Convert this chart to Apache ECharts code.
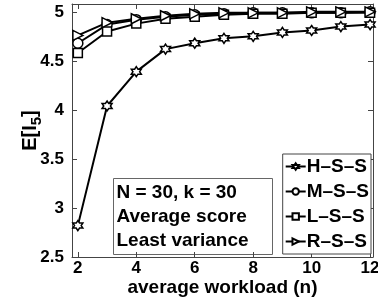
<!DOCTYPE html>
<html><head><meta charset="utf-8">
<script src="https://cdn.jsdelivr.net/npm/echarts@6/dist/echarts.min.js"></script>
<style>html,body{margin:0;padding:0;background:#fff}#c{width:378px;height:300px}</style>
</head><body><div id="c"></div>
<script>
const workload = [2,3,4,5,6,7,8,9,10,11,12];
const hss = [2.82,4.04,4.39,4.62,4.68,4.73,4.75,4.79,4.81,4.85,4.87];
const mss = [4.68,4.87,4.92,4.95,4.97,4.98,4.99,4.99,4.99,4.99,5.00];
const lss = [4.58,4.80,4.88,4.93,4.95,4.97,4.98,4.98,4.99,4.99,4.99];
const rss = [4.76,4.89,4.93,4.96,4.98,4.99,4.99,4.99,5.00,5.00,5.00];
const seriesNames = ['H\u2013S\u2013S','M\u2013S\u2013S','L\u2013S\u2013S','R\u2013S\u2013S'];
const xTicks = [2,4,6,8,10,12];
const yTicks = [2.5,3,3.5,4,4.5,5];
const note = ['N = 30, k = 30','Average score','Least variance'];

const FONT = '"Liberation Sans", Arial, sans-serif';
const star = 'path://M0,-10L2.89,-5L8.66,-5L5.77,0L8.66,5L2.89,5L0,10L-2.89,5L-8.66,5L-5.77,0L-8.66,-5L-2.89,-5Z';
const symbols = [star,'circle','rect','path://M-7,-8L8,0L-7,8Z'];
const sizes = [10,10,9,10];
const data = [hss,mss,lss,rss];

const chart = echarts.init(document.getElementById('c'));
const axisLine = {lineStyle:{color:'#444',width:1}};
const tick = vals => ({inside:true,length:5,customValues:vals,lineStyle:{color:'#444'}});
const lblStyle = {fontFamily:FONT,fontWeight:'bold',fontSize:17,color:'#000'};
chart.setOption({
  animation:false,
  backgroundColor:'#fff',
  grid:{left:72,right:5,top:4,bottom:43,containLabel:false,outerBoundsMode:'none'},
  xAxis:[
    {type:'value',min:1.8,max:12.1,position:'bottom',
      name:'average workload (n)',nameLocation:'middle',nameGap:21,nameMoveOverlap:false,
      nameTextStyle:{fontFamily:FONT,fontWeight:'bold',fontSize:19,color:'#000'},
      axisLabel:Object.assign({customValues:xTicks,margin:3},lblStyle),
      axisLine:axisLine,axisTick:tick(xTicks),splitLine:{show:false}},
    {type:'value',min:1.8,max:12.1,position:'top',axisLabel:{show:false},
      axisLine:axisLine,axisTick:tick(xTicks),splitLine:{show:false}}
  ],
  yAxis:[
    {type:'value',min:2.5,max:5.08,position:'left',
      name:'E[I{s|5}]',nameLocation:'middle',nameGap:28,nameRotate:90,nameMoveOverlap:false,
      nameTextStyle:{fontFamily:FONT,fontWeight:'bold',fontSize:20,color:'#000',
        rich:{s:{fontFamily:FONT,fontWeight:'bold',fontSize:15,color:'#000',padding:[12,0,0,0]}}},
      axisLabel:Object.assign({customValues:yTicks,margin:8,formatter:v=>String(v)},lblStyle),
      axisLine:axisLine,axisTick:tick(yTicks),splitLine:{show:false}},
    {type:'value',min:2.5,max:5.08,position:'right',axisLabel:{show:false},
      axisLine:axisLine,axisTick:tick(yTicks),splitLine:{show:false}}
  ],
  legend:{
    orient:'vertical',right:7,top:154,itemWidth:20,itemHeight:8,itemGap:6,
    padding:[3,2,3,2],borderColor:'#444',borderWidth:1,backgroundColor:'#fff',
    textStyle:{fontFamily:FONT,fontWeight:'bold',fontSize:19,color:'#000',padding:[0,0,0,-4],lineHeight:18},
    data:seriesNames
  },
  graphic:[{
    type:'group',left:113,top:178,z:100,
    children:[
      {type:'rect',shape:{x:0,y:0,width:159,height:76},style:{fill:'#fff',stroke:'#666',lineWidth:1}},
      {type:'text',x:3,y:2,style:{text:note.join('\n'),font:'bold 19px '+FONT,fill:'#000',lineHeight:24}}
    ]
  }],
  series:seriesNames.map((n,i)=>({
    name:n,type:'line',xAxisIndex:0,yAxisIndex:0,
    data:workload.map((x,j)=>[x,data[i][j]]),
    symbol:symbols[i],symbolSize:sizes[i],showAllSymbol:true,
    lineStyle:{color:'#000',width:2},
    itemStyle:{color:'#fff',borderColor:'#000',borderWidth:1.5},
    z:2+i
  }))
});
</script></body></html>
